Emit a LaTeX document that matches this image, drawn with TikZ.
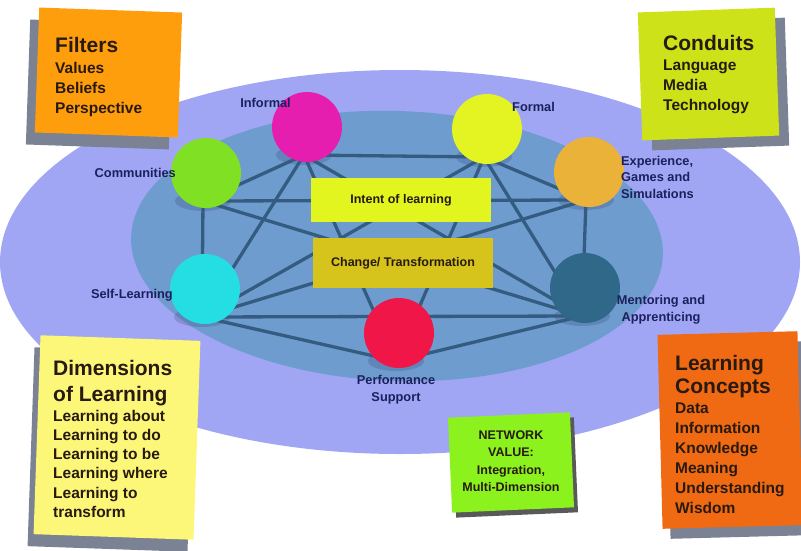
\documentclass[tikz,border=0pt]{standalone}
\usepackage{fontspec}
\setmainfont{Liberation Sans}
\usepackage{tikz}
\usetikzlibrary{shapes.geometric,shadows,positioning}

\definecolor{outerblue}{RGB}{160,166,244}
\definecolor{innerblue}{RGB}{111,156,206}
\definecolor{linkblue}{RGB}{52,92,128}
\definecolor{labelnavy}{RGB}{28,32,92}
\definecolor{inkdark}{RGB}{40,26,16}
\definecolor{shadowgray}{RGB}{122,130,148}
\definecolor{commgreen}{RGB}{127,224,36}
\definecolor{infmagenta}{RGB}{230,30,176}
\definecolor{formyellow}{RGB}{228,244,34}
\definecolor{expamber}{RGB}{234,178,56}
\definecolor{selfcyan}{RGB}{36,222,228}
\definecolor{mentteal}{RGB}{47,104,137}
\definecolor{perfred}{RGB}{240,22,72}
\definecolor{intentlime}{RGB}{226,245,30}
\definecolor{changemustard}{RGB}{214,196,28}
\definecolor{filterorange}{RGB}{255,158,13}
\definecolor{conduitlime}{RGB}{205,226,25}
\definecolor{dimyellow}{RGB}{252,247,120}
\definecolor{conceptorange}{RGB}{239,106,18}
\definecolor{networkgreen}{RGB}{140,242,30}

\newcommand{\notetitle}[1]{{\fontsize{21}{26}\selectfont #1}}

\begin{document}
\begin{tikzpicture}[
x=1pt, y=-1pt,
every node/.style={font=\bfseries},
mode/.style={circle, minimum size=70pt, inner sep=0pt},
base/.style={ellipse, minimum width=56pt, minimum height=20pt, inner sep=0pt, fill=labelnavy, fill opacity=0.18},
link/.style={draw=linkblue, line width=3.3pt},
modelabel/.style={inner sep=0pt, text=labelnavy, font=\bfseries\fontsize{12.8}{16.5}\selectfont},
banner/.style={minimum width=180pt, inner sep=0pt, text=inkdark, font=\bfseries\fontsize{12.5}{15}\selectfont},
note/.style={inner sep=0pt},
notetext/.style={anchor=north west, inner sep=0pt, align=left, text=inkdark, font=\bfseries\fontsize{15.5}{20}\selectfont}
]
\useasboundingbox (0,0) rectangle (801,550);

% the two fields
\fill[outerblue] (400,262) ellipse [x radius=400pt, y radius=192pt];
\fill[innerblue, rotate around={-2:(397,246)}] (397,246) ellipse [x radius=266pt, y radius=135pt];

% shadows under the circles
\node[base] (comm-sh) at (203,201) {};
\node[base] (inf-sh) at (304,155) {};
\node[base] (form-sh) at (484,157) {};
\node[base] (exper-sh) at (586,200) {};
\node[base] (self-sh) at (202,317) {};
\node[base] (ment-sh) at (582,316) {};
\node[base] (perf-sh) at (396,361) {};

% links between the modes
\foreach \from/\to in {comm/inf, inf/form, form/exper, comm/self, exper/ment, comm/exper,
  self/ment, self/perf, perf/ment, comm/ment, inf/ment, inf/self, inf/perf,
  form/self, form/perf, form/ment, exper/self}
  \draw[link] (\from-sh.center) -- (\to-sh.center);

% modes of learning
\node[mode, fill=commgreen] (comm) at (206,173) {};
\node[mode, fill=infmagenta] (inf) at (307,127) {};
\node[mode, fill=formyellow] (form) at (487,129) {};
\node[mode, fill=expamber] (exper) at (589,172) {};
\node[mode, fill=selfcyan] (self) at (205,289) {};
\node[mode, fill=mentteal] (ment) at (585,288) {};
\node[mode, fill=perfred] (perf) at (399,333) {};

% centre banners
\node[banner, fill=intentlime, minimum height=44pt] (intent) at (401,200) {Intent of learning};
\node[banner, fill=changemustard, minimum height=50pt] (change) at (403,263) {Change/ Transformation};

% mode labels
\node[modelabel, anchor=base east] (inf-l) at (291,107) {Informal};
\node[modelabel, anchor=base west] (form-l) at (512,111) {Formal};
\node[modelabel, anchor=base east] (comm-l) at (176,177) {Communities};
\node[modelabel, anchor=base east] (self-l) at (173,298) {Self-Learning};
\node[modelabel, anchor=north west, align=left] (exper-l) at (621,156) {Experience,\\Games and\\Simulations};
\node[modelabel, anchor=north, align=center, font=\bfseries\fontsize{12.8}{17}\selectfont] (ment-l) at (661,295) {Mentoring and\\Apprenticing};
\node[modelabel, anchor=north, align=center] (perf-l) at (396,375.5) {Performance\\Support};

% sticky notes
\node[note, fill=filterorange, minimum width=143pt, minimum height=125pt, rotate=-2,
  drop shadow={shadow xshift=-9pt, shadow yshift=-12pt, fill=shadowgray, opacity=1}] (filters) at (108.5,72.5) {};
\node[notetext] (filters-t) at (55,37) {\notetitle{Filters}\\[1pt]Values\\Beliefs\\Perspective};

\node[note, fill=conduitlime, minimum width=137pt, minimum height=128pt, rotate=2,
  drop shadow={shadow xshift=10pt, shadow yshift=-10pt, fill=shadowgray, opacity=1}] (conduits) at (708.5,74) {};
\node[notetext] (conduits-t) at (663,35) {\notetitle{Conduits}\\Language\\Media\\Technology};

\node[note, fill=dimyellow, minimum width=160pt, minimum height=199pt, rotate=-2,
  drop shadow={shadow xshift=-6pt, shadow yshift=-12pt, fill=shadowgray, opacity=1}] (dims) at (117,437.5) {};
\node[notetext, font=\bfseries\fontsize{15.5}{19.3}\selectfont] (dims-t) at (53,360)
  {\notetitle{Dimensions}\\[7pt]\notetitle{of Learning}\\Learning about\\Learning to do\\Learning to be\\Learning where\\Learning to\\transform};

\node[note, fill=conceptorange, minimum width=140pt, minimum height=194pt, rotate=1.5,
  drop shadow={shadow xshift=8pt, shadow yshift=-10pt, fill=shadowgray, opacity=1}] (concepts) at (730,430) {};
\node[notetext] (concepts-t) at (675,355)
  {\notetitle{Learning}\\[3pt]\notetitle{Concepts}\\Data\\Information\\Knowledge\\Meaning\\Understanding\\Wisdom};

\node[note, fill=networkgreen, minimum width=122pt, minimum height=95pt, rotate=2.5,
  drop shadow={shadow xshift=4pt, shadow yshift=-5pt, fill=black!65, opacity=1}] (network) at (511,462.5) {};
\node[inner sep=0pt, align=center, text=inkdark, font=\bfseries\fontsize{12.5}{17.5}\selectfont] (network-t) at (511,461)
  {NETWORK\\VALUE:\\Integration,\\Multi-Dimension};

\end{tikzpicture}
\end{document}
